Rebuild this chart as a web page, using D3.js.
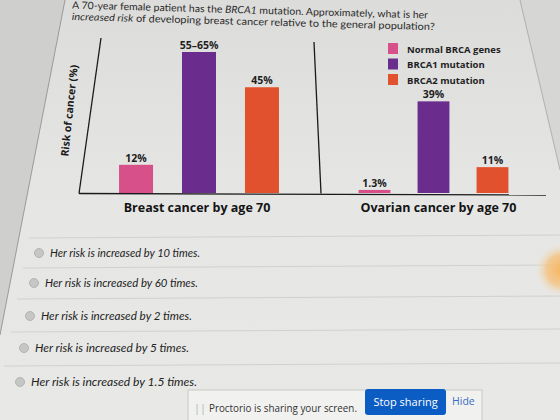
<!DOCTYPE html>
<html>
<head>
<meta charset="utf-8">
<script src="https://cdn.jsdelivr.net/npm/d3@7"></script>
<style>
  html, body { margin: 0; padding: 0; background: #e2e3e1; }
  svg { display: block; }
</style>
</head>
<body>
<div id="chart"></div>
<script>
// chart data
var groups = ["Breast cancer by age 70", "Ovarian cancer by age 70"]
var series = ["Normal BRCA genes", "BRCA1 mutation", "BRCA2 mutation"]
var breastRisk = [12, 60, 45]
var ovarianRisk = [1.3, 39, 11]
var breastLabels = ["12%", "55–65%", "45%"]
var ovarianLabels = ["1.3%", "39%", "11%"]
var colors = ["#d8508a", "#6a2d8e", "#e1512d"]

var questionLines = [
  "A 70-year female patient has the BRCA1 mutation. Approximately, what is her",
  "increased risk of developing breast cancer relative to the general population?"
]
var answers = [
  "Her risk is increased by 10 times.",
  "Her risk is increased by 60 times.",
  "Her risk is increased by 2 times.",
  "Her risk is increased by 5 times.",
  "Her risk is increased by 1.5 times."
]

var W = 560, H = 420;
var base = 193;

var svg = d3.select("#chart").append("svg")
    .attr("width", W)
    .attr("height", H);

var defs = svg.append("defs");
var bg = defs.append("linearGradient").attr("id", "bg")
    .attr("x1", 0).attr("y1", 0).attr("x2", 0).attr("y2", 1);
bg.append("stop").attr("offset", "0%").attr("stop-color", "#dcdcda");
bg.append("stop").attr("offset", "50%").attr("stop-color", "#e6e7e5");
bg.append("stop").attr("offset", "100%").attr("stop-color", "#e8e9e6");
var glow = defs.append("radialGradient").attr("id", "glow");
glow.append("stop").attr("offset", "0%").attr("stop-color", "#f7b45c");
glow.append("stop").attr("offset", "55%").attr("stop-color", "#f5c27f").attr("stop-opacity", 0.8);
glow.append("stop").attr("offset", "100%").attr("stop-color", "#e9e6de").attr("stop-opacity", 0);

svg.append("rect").attr("width", W).attr("height", H).attr("fill", "url(#bg)");
// page edges of the photographed screen
svg.append("path").attr("d", "M0,0 L65,0 L0,335 Z").attr("fill", "#cfd0ce");
svg.append("line").attr("x1", 65).attr("y1", 0).attr("x2", 0).attr("y2", 335)
    .attr("stroke", "#8a8a88").attr("stroke-width", 0.8);
svg.append("path").attr("d", "M520,0 L560,0 L560,170 Z").attr("fill", "#d6d6d4");
svg.append("line").attr("x1", 520).attr("y1", 0).attr("x2", 560).attr("y2", 170)
    .attr("stroke", "#a5a5a3").attr("stroke-width", 0.8);

// question
var q = svg.append("g").attr("transform", "rotate(1.6,72,10)")
    .style("font-family", "Lato, sans-serif").style("font-size", "10px").attr("fill", "#2a2a2a");
q.append("text").attr("x", 72).attr("y", 8.5).attr("textLength", 356).attr("lengthAdjust", "spacingAndGlyphs")
  .call(function(t) {
    t.append("tspan").text("A 70-year female patient has the ");
    t.append("tspan").style("font-style", "italic").text("BRCA1");
    t.append("tspan").text(" mutation. Approximately, what is her");
  });
q.append("text").attr("x", 72).attr("y", 20).attr("textLength", 363).attr("lengthAdjust", "spacingAndGlyphs")
  .call(function(t) {
    t.append("tspan").style("font-style", "italic").text("increased risk");
    t.append("tspan").text(" of developing breast cancer relative to the general population?");
  });

// scales
var y = d3.scaleLinear().domain([0, 60]).range([base, 52]);
var panelRanges = [[80, 318], [322, 545]];
var panelData = [breastRisk, ovarianRisk];
var panelLabels = [breastLabels, ovarianLabels];

var chart = svg.append("g").style("font-family", "'Open Sans', sans-serif");

groups.forEach(function(g, gi) {
  var x = d3.scaleBand().domain(series).range(panelRanges[gi])
      .paddingInner(0.46).paddingOuter(0.62);
  var rows = series.map(function(s, i) {
    return {s: s, v: panelData[gi][i], label: panelLabels[gi][i], c: colors[i]};
  });
  var pg = chart.append("g");
  pg.selectAll("rect").data(rows).enter().append("rect")
    .attr("x", function(d) { return x(d.s); })
    .attr("width", x.bandwidth())
    .attr("y", function(d) { return y(d.v); })
    .attr("height", function(d) { return base - y(d.v); })
    .attr("fill", function(d) { return d.c; });
  pg.selectAll(".value").data(rows).enter().append("text")
    .attr("class", "value")
    .attr("x", function(d) { return x(d.s) + x.bandwidth() / 2; })
    .attr("y", function(d) { return y(d.v) - 3; })
    .attr("text-anchor", "middle")
    .style("font-size", "10.5px").style("font-weight", "bold")
    .attr("fill", "#1e1e1e")
    .text(function(d) { return d.label; });
  pg.append("text")
    .attr("x", (panelRanges[gi][0] + panelRanges[gi][1]) / 2 + (gi ? 5 : -2))
    .attr("y", 212)
    .attr("text-anchor", "middle")
    .style("font-size", "12.5px").style("font-weight", "bold")
    .attr("fill", "#141414")
    .text(g);
});

// axes, leaning like the photo
chart.append("line").attr("x1", 101).attr("y1", 38).attr("x2", 79).attr("y2", base + 0.5)
    .attr("stroke", "#1a1a1a").attr("stroke-width", 1.3);
chart.append("line").attr("x1", 314).attr("y1", 42).attr("x2", 321).attr("y2", base + 0.5)
    .attr("stroke", "#1a1a1a").attr("stroke-width", 1.3);
chart.append("line").attr("x1", 79).attr("y1", base + 0.5).attr("x2", 546).attr("y2", base + 2)
    .attr("stroke", "#1a1a1a").attr("stroke-width", 1.3);

chart.append("text")
    .attr("transform", "translate(73,111) rotate(-84)")
    .attr("text-anchor", "middle")
    .style("font-size", "10.5px").style("font-weight", "bold")
    .attr("fill", "#1a1a1a")
    .text("Risk of cancer (%)");

// legend
var legend = chart.append("g").attr("transform", "translate(388,43)");
var li = legend.selectAll("g").data(series).enter().append("g")
    .attr("transform", function(d, i) { return "translate(0," + (i * 15.5) + ")"; });
li.append("rect").attr("width", 10).attr("height", 11)
    .attr("fill", function(d, i) { return colors[i]; });
li.append("text").attr("x", 19).attr("y", 9.5)
    .style("font-size", "9.5px").style("font-weight", "bold")
    .attr("fill", "#1e1e1e")
    .text(function(d) { return d; });

// answer choices
var rowY = [253, 283, 316, 348, 382];
var radioX = [39, 34, 30, 24, 20];
var sepY = [238, 268, 299, 332, 366];
var lens = [150, 153, 151, 154, 166];

svg.selectAll(".sep").data(sepY).enter().append("line")
    .attr("class", "sep")
    .attr("x1", function(d) { return 65 - 65 * d / 335 + 10; })
    .attr("x2", W)
    .attr("y1", function(d) { return d; })
    .attr("y2", function(d) { return d - 3; })
    .attr("stroke", "#cfd1cf").attr("stroke-width", 1);

var opt = svg.selectAll(".opt").data(answers).enter().append("g").attr("class", "opt");
opt.append("circle")
    .attr("cx", function(d, i) { return radioX[i]; })
    .attr("cy", function(d, i) { return rowY[i]; })
    .attr("r", 4.5)
    .attr("fill", "#c6c7c5").attr("stroke", "#a9aaa8").attr("stroke-width", 0.8);
opt.append("text")
    .attr("x", function(d, i) { return radioX[i] + 11; })
    .attr("y", function(d, i) { return rowY[i] + 4; })
    .attr("textLength", function(d, i) { return lens[i]; })
    .attr("lengthAdjust", "spacingAndGlyphs")
    .style("font-family", "Lato, sans-serif").style("font-size", "12px").style("font-style", "italic")
    .attr("fill", "#222")
    .text(function(d) { return d; });

// light reflection
svg.append("circle").attr("cx", 562).attr("cy", 270).attr("r", 28).attr("fill", "url(#glow)");

// proctorio bar
var pb = svg.append("g").style("font-family", "'Open Sans', sans-serif");
pb.append("rect").attr("x", 188).attr("y", 390).attr("width", 294).attr("height", 40)
    .attr("fill", "#f1f2f0").attr("stroke", "#c8c9c7");
pb.append("text").attr("x", 194).attr("y", 412).style("font-size", "11px").attr("fill", "#b0b0b0").text("||");
pb.append("text").attr("x", 209).attr("y", 412).attr("textLength", 148).attr("lengthAdjust", "spacingAndGlyphs")
    .style("font-size", "11px").attr("fill", "#333").text("Proctorio is sharing your screen.");
pb.append("rect").attr("x", 365).attr("y", 389).attr("width", 81).attr("height", 26).attr("rx", 3)
    .attr("fill", "#0b5dc4");
pb.append("text").attr("x", 405.5).attr("y", 406).attr("text-anchor", "middle")
    .style("font-size", "11px").attr("fill", "#fff").text("Stop sharing");
pb.append("text").attr("x", 452).attr("y", 405)
    .style("font-size", "10.5px").attr("fill", "#3b6cc6").text("Hide");
</script>
</body>
</html>
